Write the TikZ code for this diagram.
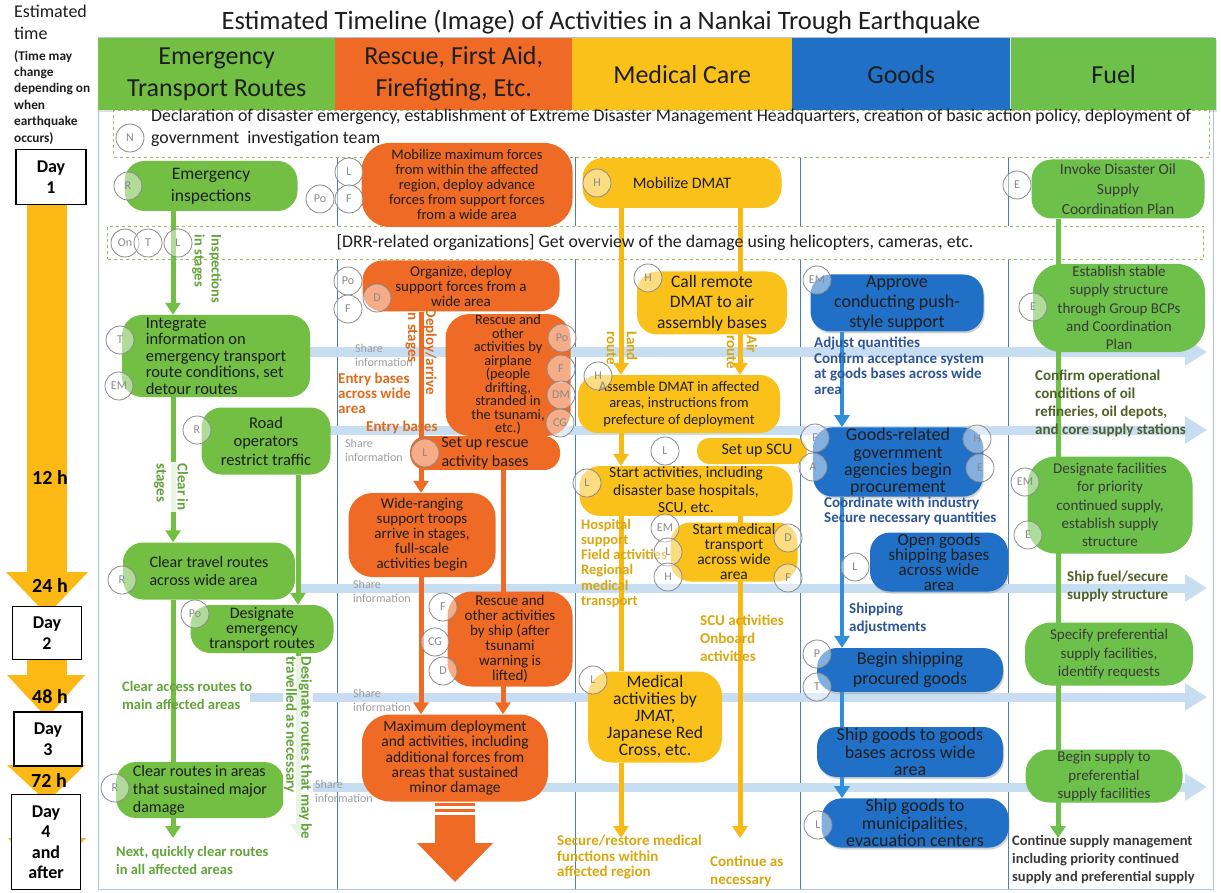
\documentclass[tikz,border=0pt]{standalone}
\usepackage{fontspec}
\setmainfont{Carlito}
\usetikzlibrary{positioning, arrows.meta, shadows}
\definecolor{routeGreen}{HTML}{72BF44}
\definecolor{fuelGreen}{HTML}{6DC04A}
\definecolor{rescueOrange}{HTML}{EF6A25}
\definecolor{medYellow}{HTML}{FBC11B}
\definecolor{medLine}{HTML}{F9B914}
\definecolor{goodsBlue}{HTML}{1F70C6}
\definecolor{flowBlue}{HTML}{2F8FDA}
\definecolor{timeOrange}{HTML}{FDB913}
\definecolor{shareBlue}{HTML}{C6DDF2}
\definecolor{laneBlue}{HTML}{4A7EBB}
\definecolor{frameGray}{HTML}{B4C3D8}
\definecolor{dashGreen}{HTML}{9BBB59}
\definecolor{tagGray}{HTML}{8A8A8A}
\definecolor{inkDark}{HTML}{1E1E1E}
\definecolor{inkFuel}{HTML}{3A3A3A}
\definecolor{noteGreen}{HTML}{62A33A}
\definecolor{noteOrange}{HTML}{E06A1B}
\definecolor{noteGold}{HTML}{D9A70F}
\definecolor{noteBlue}{HTML}{2E5597}
\definecolor{noteOlive}{HTML}{4D6128}

\newcommand{\fsz}[2]{\fontsize{#1}{#2}\selectfont}

\pgfdeclarelayer{back}
\pgfdeclarelayer{mid}
\pgfsetlayers{back,mid,main}

\tikzset{
  procbox/.style={rounded corners=20pt, align=center, text=inkDark, inner sep=1pt},
  routebox/.style={procbox, fill=routeGreen, font=\fsz{16}{17}},
  rescuebox/.style={procbox, fill=rescueOrange, font=\fsz{14.5}{15}},
  medbox/.style={procbox, fill=medYellow, font=\fsz{15}{16.5}},
  goodsbox/.style={procbox, fill=goodsBlue, font=\fsz{18}{17.3},
    drop shadow={opacity=.35, shadow xshift=1pt, shadow yshift=-2pt}},
  fuelbox/.style={procbox, fill=fuelGreen, text=inkFuel, font=\fsz{15}{18.3}},
  orgtag/.style={circle, draw=tagGray, line width=.8pt, minimum size=28pt,
    inner sep=0pt, text=tagGray, fill=white, fill opacity=.45, text opacity=1, font=\fsz{12}{12}},
  flowarrow/.style={line width=5pt, -{Triangle[width=15pt,length=12pt]}},
  flowline/.style={line width=5pt},
  sharearrow/.style={line width=9pt, draw=shareBlue, -{Triangle[width=26pt,length=22pt]}},
  sharetxt/.style={text=gray!75, font=\fsz{12}{14}, align=left, anchor=north west, inner sep=0pt},
  annot/.style={font=\bfseries\fsz{15}{15}, align=left, anchor=north west, inner sep=0pt},
  vlabel/.style={rotate=-90, align=left, inner sep=1pt},
  lanehead/.style={anchor=north west, minimum height=72pt, inner sep=0pt, align=center,
    text=inkDark, font=\fsz{26}{32}, drop shadow={opacity=.25, shadow xshift=1pt, shadow yshift=-1.5pt}},
  dashbox/.style={anchor=north west, draw=dashGreen, dashed, line width=1pt, fill=white, inner sep=0pt},
  daybox/.style={draw=black, line width=1.2pt, fill=white, align=center, inner sep=0pt,
    font=\bfseries\fsz{18}{21}},
  hourtxt/.style={font=\bfseries\fsz{20}{20}, text=black}
}

\begin{document}
\begin{tikzpicture}[x=1pt, y=-1pt]
\useasboundingbox (0,0) rectangle (1221,893);

\begin{pgfonlayer}{back}
  \fill[white] (0,0) rectangle (1221,893);
  \draw[frameGray, line width=1pt] (98,38) rectangle (1213,889);
  \foreach \x in {337,575,800,1008}
    \draw[laneBlue, line width=.8pt] (\x,110) -- (\x,889);
  \node[lanehead, fill=routeGreen, minimum width=237pt] (hdRoute) at (98,38) {Emergency\\Transport Routes};
  \node[lanehead, fill=rescueOrange, minimum width=237pt] (hdRescue) at (335,38) {Rescue, First Aid,\\Firefigting, Etc.};
  \node[lanehead, fill=medYellow, minimum width=220pt] (hdMed) at (572,38) {Medical Care};
  \node[lanehead, fill=goodsBlue, minimum width=218pt] (hdGoods) at (792,38) {Goods};
  \node[lanehead, fill=fuelGreen, minimum width=205pt] (hdFuel) at (1011,38) {Fuel};
  \node[dashbox, minimum width=1096pt, minimum height=47pt] (declBox) at (113,110) {};
  \node[dashbox, minimum width=1096pt, minimum height=33pt] (drrBox) at (107,226) {};
  \foreach \i/\y/\xa in {1/352/298, 2/430/330, 3/588/300, 4/697/250, 5/787/310} {
    \coordinate (shareL\i) at (\xa,\y);
    \coordinate (shareR\i) at (1207,\y);
    \draw[sharearrow] (shareL\i) -- (shareR\i);
  }
  \fill[timeOrange] (27,205) rectangle (67,575);
  \fill[timeOrange] (6,572) -- (88,572) -- (47,615) -- cycle;
  \fill[timeOrange] (27,655) rectangle (67,678);
  \fill[timeOrange] (7,675) -- (85,675) -- (47,718) -- cycle;
  \fill[timeOrange] (27,758) rectangle (67,768);
  \fill[timeOrange] (7,765) -- (85,765) -- (47,802) -- cycle;
  \fill[timeOrange] (27,800) rectangle (67,842);
  \fill[timeOrange] (8,838) -- (86,838) -- (47,880) -- cycle;
\end{pgfonlayer}

\node[font=\fsz{26.5}{30}, text=inkDark] (title) at (601,22)
  {Estimated Timeline (Image) of Activities in a Nankai Trough Earthquake};
\node[anchor=north west, align=left, inner sep=0pt, text=inkDark, font=\fsz{18}{22}] (timeHead) at (14,5)
  {Estimated\\time};
\node[anchor=north west, align=left, inner sep=0pt, text=inkDark, font=\bfseries\fsz{13.3}{16.4}] (timeNote) at (14,50)
  {(Time may\\change\\depending on\\when\\earthquake\\occurs)};
\node[daybox, minimum width=70pt, minimum height=55pt] (day1) at (51,177) {Day\\1};
\node[daybox, minimum width=69pt, minimum height=53pt] (day2) at (47,633) {Day\\2};
\node[daybox, minimum width=68pt, minimum height=54pt] (day3) at (48,739) {Day\\3};
\node[daybox, minimum width=69pt, minimum height=95pt, font=\bfseries\fsz{18}{20.5}] (day4) at (46,842) {Day\\4\\and\\after};
\node[hourtxt] (h12) at (50,477) {12 h};
\node[hourtxt] (h24) at (50,585) {24 h};
\node[hourtxt] (h48) at (50,697) {48 h};
\node[hourtxt] (h72) at (49,780) {72 h};

\node[anchor=north west, align=left, inner sep=0pt, text=inkDark, font=\fsz{17.8}{22}] (declTxt) at (151,109)
  {Declaration of disaster emergency, establishment of Extreme Disaster Management Headquarters, creation of basic action policy, deployment of\\government\ \ investigation team};
\node[text=inkDark, font=\fsz{17.8}{20}] (drrTxt) at (655,243)
  {[DRR-related organizations] Get overview of the damage using helicopters, cameras, etc.};

\node[sharetxt] (shareT1) at (355,344) {Share\\information};
\node[sharetxt] (shareT2) at (345,439) {Share\\information};
\node[sharetxt] (shareT3) at (353,580) {Share\\information};
\node[sharetxt] (shareT4) at (353,689) {Share\\information};
\node[sharetxt] (shareT5) at (315,780) {Share\\information};

\node[annot, text=noteOrange] (entryNote) at (338,373) {Entry bases\\across wide\\area};
\node[annot, text=noteOrange] (entryNote2) at (366,421) {Entry bases};
\node[annot, text=noteGold, font=\bfseries\fsz{14.5}{15.2}] (hospNote) at (581,519)
  {Hospital\\support\\Field activities\\Regional\\medical\\transport};
\node[annot, text=noteGold, font=\bfseries\fsz{15}{18}] (scuNote) at (700,615) {SCU activities\\Onboard\\activities};
\node[annot, text=noteGold, font=\bfseries\fsz{15}{15.5}] (secNote) at (557,835)
  {Secure/restore medical\\functions within\\affected region};
\node[annot, text=noteGold, font=\bfseries\fsz{15}{18}] (contNote) at (710,856) {Continue as\\necessary};
\node[annot, text=noteBlue, font=\bfseries\fsz{15}{15.5}] (adjNote) at (814,337)
  {Adjust quantities\\Confirm acceptance system\\at goods bases across wide\\area};
\node[annot, text=noteBlue] (coordNote) at (824,497) {Coordinate with industry\\Secure necessary quantities};
\node[annot, text=noteBlue, font=\bfseries\fsz{15}{18}] (shipAdj) at (849,603) {Shipping\\adjustments};
\node[annot, text=noteOlive, font=\bfseries\fsz{15}{18}] (oilNote) at (1035,370)
  {Confirm operational\\conditions of oil\\refineries, oil depots,\\and core supply stations};
\node[annot, text=noteOlive, font=\bfseries\fsz{15}{18}] (shipFuel) at (1067,571) {Ship fuel/secure\\supply structure};
\node[annot, text=inkFuel, font=\bfseries\fsz{14.5}{18}] (contFuel) at (1012,835)
  {Continue supply management\\including priority continued\\supply and preferential supply};
\node[annot, text=noteGreen, font=\bfseries\fsz{14.5}{18.5}] (accessNote) at (122,681) {Clear access routes to\\main affected areas};
\node[annot, text=noteGreen, font=\bfseries\fsz{14.5}{18.5}] (nextNote) at (116,846) {Next, quickly clear routes\\in all affected areas};

\node[routebox, font=\fsz{17.5}{22}, minimum width=173pt, minimum height=50pt] (insp) at (211,186) {Emergency\\inspections};
\node[routebox, align=left, font=\fsz{16.5}{16.5}, minimum width=188pt, minimum height=82pt] (integ) at (216,356)
  {Integrate\\information on\\emergency transport\\route conditions, set\\detour routes};
\node[routebox, font=\fsz{16.5}{18.5}, minimum width=129pt, minimum height=67pt] (road) at (266,441) {Road\\operators\\restrict traffic};
\node[routebox, align=left, font=\fsz{16}{18}, minimum width=172pt, minimum height=57pt] (cleartr) at (209,571) {Clear travel routes\\across wide area};
\node[routebox, minimum width=143pt, minimum height=48pt, font=\fsz{16}{15}] (desig) at (262,629) {Designate\\emergency\\transport routes};
\node[routebox, align=left, font=\fsz{16}{18}, minimum width=168pt, minimum height=56pt] (clearmaj) at (200,790)
  {Clear routes in areas\\that sustained major\\damage};

\node[rescuebox, minimum width=211pt, minimum height=84pt, rounded corners=28pt] (mobil) at (467,185)
  {Mobilize maximum forces\\from within the affected\\region, deploy advance\\forces from support forces\\from a wide area};
\node[rescuebox, font=\fsz{15}{15}, minimum width=197pt, minimum height=51pt] (organ) at (461,286)
  {Organize, deploy\\support forces from a\\wide area};
\node[rescuebox, font=\fsz{14.3}{13.5}, minimum width=125pt, minimum height=105pt, rounded corners=24pt] (airpl) at (508,375)
  {Rescue and\\other\\activities by\\airplane\\(people\\drifting,\\stranded in\\the tsunami,\\etc.)};
\node[rescuebox, font=\fsz{16}{19}, minimum width=150pt, minimum height=33pt, rounded corners=16pt] (setup) at (485,453)
  {Set up rescue\\activity bases};
\node[rescuebox, font=\fsz{15}{15}, minimum width=147pt, minimum height=84pt, rounded corners=24pt] (wide) at (422,535)
  {Wide-ranging\\support troops\\arrive in stages,\\full-scale\\activities begin};
\node[rescuebox, font=\fsz{15}{15}, minimum width=125pt, minimum height=95pt, rounded corners=24pt] (ship) at (510,639)
  {Rescue and\\other activities\\by ship (after\\tsunami\\warning is\\lifted)};
\node[rescuebox, font=\fsz{15.5}{15.3}, minimum width=186pt, minimum height=87pt, rounded corners=28pt] (maxd) at (455,758)
  {Maximum deployment\\and activities, including\\additional forces from\\areas that sustained\\minor damage};
\fill[rescueOrange] (435,803) rectangle (475,806);
\fill[rescueOrange] (435,809) rectangle (475,812);
\fill[rescueOrange] (435,815) -- (475,815) -- (475,843) -- (493,843) -- (455,882) -- (417,843) -- (435,843) -- cycle;

\node[medbox, font=\fsz{16}{17}, minimum width=199pt, minimum height=50pt] (mdmat) at (682,183) {Mobilize DMAT};
\node[medbox, font=\fsz{17.5}{20.5}, minimum width=150pt, minimum height=63pt] (callr) at (712,303)
  {Call remote\\DMAT to air\\assembly bases};
\node[medbox, font=\fsz{14.5}{16.7}, minimum width=202pt, minimum height=58pt] (assem) at (679,404)
  {Assemble DMAT in affected\\areas, instructions from\\prefecture of deployment};
\node[medbox, font=\fsz{16}{17}, minimum width=110pt, minimum height=26pt, rounded corners=12pt] (scu) at (752,451) {\hspace{10pt}Set up SCU};
\node[medbox, font=\fsz{15.5}{17.5}, minimum width=213pt, minimum height=48pt] (start) at (686,491)
  {Start activities, including\\disaster base hospitals,\\SCU, etc.};
\node[medbox, font=\fsz{15.5}{15}, minimum width=127pt, minimum height=59pt] (smt) at (734,552)
  {Start medical\\transport\\across wide\\area};
\node[medbox, font=\fsz{17.5}{17}, minimum width=134pt, minimum height=91pt, rounded corners=24pt] (jmat) at (655,717)
  {Medical\\activities by\\JMAT,\\Japanese Red\\Cross, etc.};

\node[goodsbox, font=\fsz{18}{20}, minimum width=173pt, minimum height=57pt] (appr) at (897,303)
  {Approve\\conducting push-\\style support};
\node[goodsbox, minimum width=170pt, minimum height=67pt] (gdsrel) at (898,462)
  {Goods-related\\government\\agencies begin\\procurement};
\node[goodsbox, font=\fsz{17}{15}, minimum width=138pt, minimum height=59pt] (opengd) at (939,562)
  {Open goods\\shipping bases\\across wide\\area};
\node[goodsbox, font=\fsz{18}{20}, minimum width=186pt, minimum height=44pt] (beginsh) at (910,670)
  {Begin shipping\\procured goods};
\node[goodsbox, minimum width=186pt, minimum height=50pt] (shipgb) at (910,752)
  {Ship goods to goods\\bases across wide\\area};
\node[goodsbox, minimum width=187pt, minimum height=49pt] (shipmun) at (915,823)
  {Ship goods to\\municipalities,\\evacuation centers};

\node[fuelbox, font=\fsz{15.5}{20}, minimum width=173pt, minimum height=59pt] (invoke) at (1118,189)
  {Invoke Disaster Oil\\Supply\\Coordination Plan};
\node[fuelbox, minimum width=172pt, minimum height=88pt, rounded corners=28pt] (estab) at (1119,308)
  {Establish stable\\supply structure\\through Group BCPs\\and Coordination\\Plan};
\node[fuelbox, minimum width=165pt, minimum height=97pt, rounded corners=28pt] (desigf) at (1110,505)
  {Designate facilities\\for priority\\continued supply,\\establish supply\\structure};
\node[fuelbox, minimum width=168pt, minimum height=63pt, rounded corners=26pt] (specf) at (1109,654)
  {Specify preferential\\supply facilities,\\identify requests};
\node[fuelbox, minimum width=157pt, minimum height=53pt, rounded corners=24pt] (beginf) at (1104,776)
  {Begin supply to\\preferential\\supply facilities};

\begin{pgfonlayer}{mid}
  \coordinate (laneA) at (173,0);
  \coordinate (laneB) at (298,0);
  \coordinate (laneC) at (421,0);
  \coordinate (laneD) at (503,0);
  \coordinate (laneE) at (621,0);
  \coordinate (laneF) at (740,0);
  \coordinate (laneG) at (842,0);
  \coordinate (laneH) at (1058,0);
  \coordinate (nextEnd) at (173,838);
  \coordinate (dsgEnd) at (298,836);
  \coordinate (secEnd) at (621,838);
  \coordinate (contEnd) at (740,838);
  \coordinate (fuelEnd) at (1058,838);
  \draw[flowarrow, routeGreen] (insp.south -| laneA) -- (integ.north -| laneA);
  \draw[flowarrow, routeGreen] (integ.south -| laneA) -- (cleartr.north -| laneA);
  \draw[flowline, routeGreen] (cleartr.south -| laneA) -- (clearmaj.north -| laneA);
  \draw[flowarrow, routeGreen] (clearmaj.south -| laneA) -- (nextEnd);
  \draw[flowarrow, routeGreen] (road.south -| laneB) -- (desig.north -| laneB);
  \draw[flowarrow, routeGreen] (desig.south -| laneB) -- (dsgEnd);
  \draw[flowarrow, rescueOrange] (organ.south -| laneC) -- (wide.north -| laneC);
  \draw[flowarrow, rescueOrange] (wide.south -| laneC) -- (maxd.north -| laneC);
  \draw[flowarrow, rescueOrange] (airpl.south -| laneD) -- (maxd.north -| laneD);
  \draw[flowarrow, medLine] (mdmat.south -| laneE) -- (assem.north -| laneE);
  \draw[flowarrow, medLine] (mdmat.south -| laneF) -- (assem.north -| laneF);
  \draw[flowarrow, medLine] (assem.south -| laneE) -- (start.north -| laneE);
  \draw[flowline, medLine] (start.south -| laneE) -- (jmat.north -| laneE);
  \draw[flowarrow, medLine] (jmat.south -| laneE) -- (secEnd);
  \draw[flowarrow, medLine] (start.south -| laneF) -- (contEnd);
  \draw[flowarrow, flowBlue, line width=4pt] (appr.south -| laneG) -- (gdsrel.north -| laneG);
  \draw[flowarrow, flowBlue, line width=4pt] (gdsrel.south -| laneG) -- (beginsh.north -| laneG);
  \draw[flowarrow, flowBlue, line width=4pt] (beginsh.south -| laneG) -- (shipmun.north -| laneG);
  \draw[flowarrow, fuelGreen] (invoke.south -| laneH) -- (fuelEnd);
\end{pgfonlayer}

\node[vlabel, text=noteGreen, font=\bfseries\fsz{14.5}{17}] (inspLbl) at (207,269) {Inspections\\in stages};
\node[vlabel, text=noteGreen, font=\bfseries\fsz{15}{21}, fill=white, fill opacity=.85, text opacity=1] (clearLbl) at (171,487) {Clear in\\stages};
\node[vlabel, text=noteGreen, font=\bfseries\fsz{15}{15}, fill=white, fill opacity=.85, text opacity=1] (dsgLbl) at (298,748)
  {Designate routes that may be\\travelled as necessary};
\node[vlabel, text=noteOrange, font=\bfseries\fsz{15}{18}] (deployLbl) at (421,352) {Deploy/arrive\\in stages};
\node[vlabel, text=noteGold, font=\bfseries\fsz{15}{20}] (landLbl) at (622,348) {Land\\route};
\node[vlabel, text=noteGold, font=\bfseries\fsz{15}{20}] (airLbl) at (742,352) {Air\\route};

\foreach \nm/\px/\py/\lbl in {tN/130/138/N, tR1/128/186/R, tPo1/320/199/Po, tL1/349/172/L, tF1/349/199/F,
    tOn/125/243/On, tT1/148/243/T, tL2/178/243/L, tE1/1017/185/E,
    tT2/120/340/T, tEM1/119/386/EM, tR2/197/430/R, tR3/122/580/R, tPo2/195/614/Po, tR4/115/788/R,
    tPo3/348/281/Po, tF2/348/309/F, tD1/377/298/D,
    tPo4/562/338/Po, tF3/561/369/F, tDM/561/395/DM, tCG1/560/423/CG, tL3/425/453/L,
    tF4/443/607/F, tCG2/435/642/CG, tD2/443/671/D,
    tH1/597/183/H, tH2/648/278/H, tH3/598/376/H, tL4/665/451/L, tL5/587/483/L,
    tEM2/665/528/EM, tL6/668/552/L, tH4/668/577/H, tD3/788/538/D, tF5/788/578/F, tL7/593/680/L,
    tEM3/817/280/EM, tF6/815/438/F, tA/813/467/A, tH5/977/439/H, tE2/980/468/E, tL8/855/567/L,
    tP/817/654/P, tT3/817/687/T, tL9/818/825/L,
    tE3/1033/307/E, tEM4/1025/482/EM, tE4/1028/535/E}
  \node[orgtag] (\nm) at (\px,\py) {\lbl};
\end{tikzpicture}
\end{document}
